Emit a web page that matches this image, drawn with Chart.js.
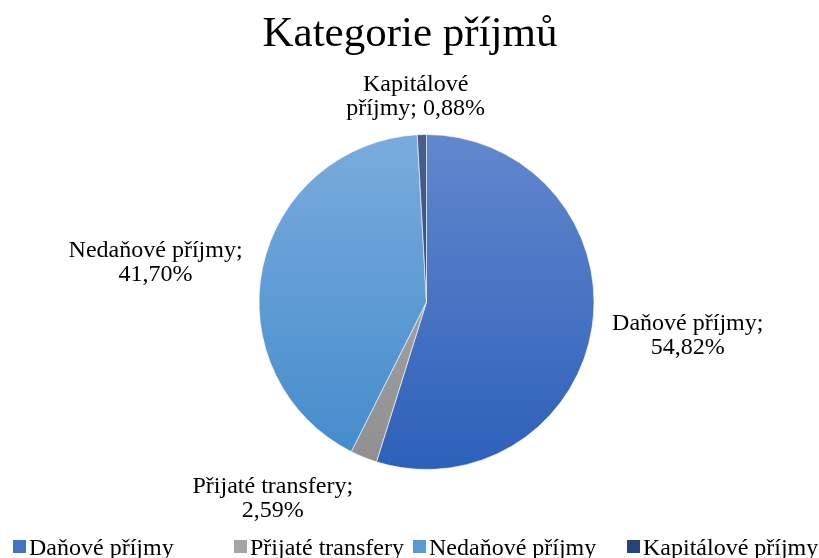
<!DOCTYPE html>
<html lang="cs">
<head>
<meta charset="utf-8">
<title>Kategorie příjmů</title>
<script src="https://cdn.jsdelivr.net/npm/chart.js@4"></script>
<style>
  html, body { margin: 0; padding: 0; background: #fff; overflow: hidden; }
  canvas { display: block; }
</style>
</head>
<body>
<canvas id="graf" width="819" height="558"></canvas>
<script>
// data z grafu
const titulek = 'Kategorie příjmů';
const kategorie = ['Daňové příjmy', 'Přijaté transfery', 'Nedaňové příjmy', 'Kapitálové příjmy'];
const podily = [54.82, 2.59, 41.70, 0.88];
const popisky = ['54,82%', '2,59%', '41,70%', '0,88%'];

// barvy (horni a dolni konec prechodu)
const barvyNahore = ['#6287cd', '#b0b0b0', '#7aabdd', '#4a5f8c'];
const barvyDole = ['#2d60b9', '#8f8f8f', '#428bcb', '#213f78'];
const barvyLegendy = ['#4472c4', '#a5a5a5', '#5b9bd5', '#264478'];

// rozmisteni popisku a legendy
const posunPopisku = [[11, 2], [-57, 8], [-12, 0], [-4, -6]];
const legendaX = [13, 234, 413, 627];
const pismo = '"Liberation Serif", "Times New Roman", serif';

function prechod(context) {
  const i = context.dataIndex;
  const area = context.chart.chartArea;
  if (!area) return barvyNahore[i];
  const g = context.chart.ctx.createLinearGradient(0, area.top, 0, area.bottom);
  g.addColorStop(0, barvyNahore[i]);
  g.addColorStop(1, barvyDole[i]);
  return g;
}

// popisky kolem kolace, titulek a legenda dole
const popiskyPlugin = {
  id: 'popisky',
  afterDraw(chart) {
    const ctx = chart.ctx;
    const meta = chart.getDatasetMeta(0);
    ctx.save();
    ctx.fillStyle = '#000';
    ctx.textAlign = 'center';
    ctx.textBaseline = 'alphabetic';

    ctx.font = '43px ' + pismo;
    ctx.fillText(titulek, 410, 46);

    ctx.font = '24px ' + pismo;
    meta.data.forEach((arc, i) => {
      const p = arc.getProps(['x', 'y', 'startAngle', 'endAngle', 'outerRadius'], true);
      const uhel = (p.startAngle + p.endAngle) / 2;
      const dx = Math.cos(uhel), dy = Math.sin(uhel);
      let radky;
      if (i === 3) radky = ['Kapitálové', 'příjmy; ' + popisky[i]];
      else radky = [kategorie[i] + ';', popisky[i]];
      const w = Math.max(...radky.map(r => ctx.measureText(r).width));
      const h = 48;
      const r = p.outerRadius + 10;
      const cx = p.x + dx * r + dx * w / 2 + posunPopisku[i][0];
      const cy = p.y + dy * r + dy * h / 2 + posunPopisku[i][1];
      ctx.fillText(radky[0], cx, cy - 4);
      ctx.fillText(radky[1], cx, cy + 20);
    });

    ctx.textAlign = 'left';
    kategorie.forEach((k, i) => {
      ctx.fillStyle = barvyLegendy[i];
      ctx.fillRect(legendaX[i], 540, 13, 13);
      ctx.fillStyle = '#000';
      ctx.fillText(k, legendaX[i] + 16, 555);
    });
    ctx.restore();
  }
};

const ctx = document.getElementById('graf').getContext('2d');

new Chart(ctx, {
  type: 'pie',
  data: {
    labels: kategorie,
    datasets: [{
      data: podily,
      backgroundColor: prechod,
      borderColor: 'rgba(255,255,255,0.6)',
      borderWidth: 1
    }]
  },
  options: {
    responsive: false,
    animation: false,
    layout: {
      padding: { top: 134, left: 258, right: 224, bottom: 88 }
    },
    plugins: {
      legend: { display: false },
      title: { display: false },
      tooltip: { enabled: false }
    }
  },
  plugins: [popiskyPlugin]
});
</script>
</body>
</html>
